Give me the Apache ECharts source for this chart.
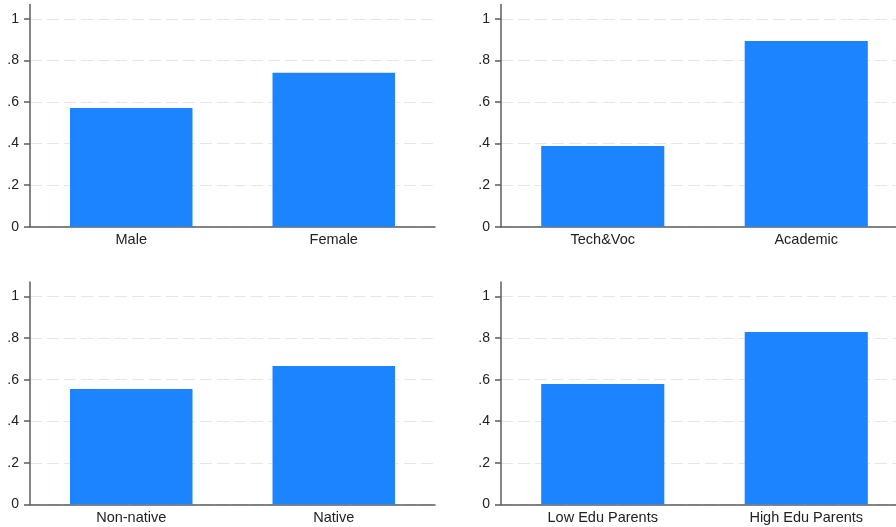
<!DOCTYPE html>
<html>
<head>
<meta charset="utf-8">
<style>
  html, body { margin: 0; padding: 0; background: #fff; }
  #chart { width: 896px; height: 527px; }
</style>
<script src="https://cdn.jsdelivr.net/npm/echarts@6/dist/echarts.min.js"></script>
</head>
<body>
<div id="chart"></div>
<script>
// Share of respondents by group (0–1 scale)
const genderCats = ['Male', 'Female'];
const genderVals = [0.571, 0.741];

const trackCats = ['Tech&Voc', 'Academic'];
const trackVals = [0.389, 0.894];

const originCats = ['Non-native', 'Native'];
const originVals = [0.555, 0.666];

const parentCats = ['Low Edu Parents', 'High Edu Parents'];
const parentVals = [0.579, 0.830];

const yTicks = [0, 0.2, 0.4, 0.6, 0.8, 1];
const yTickLabels = ['0', '.2', '.4', '.6', '.8', '1'];

const panels = [
  { cats: genderCats, vals: genderVals },
  { cats: trackCats, vals: trackVals },
  { cats: originCats, vals: originVals },
  { cats: parentCats, vals: parentVals }
];

const FONT = '"Liberation Sans", Arial, Helvetica, sans-serif';
const AXIS_COLOR = '#5c5c5c';
const BAR_COLOR = '#1c84ff';
const Y_MAX = 1.07;

// Panel boxes: [left, top, width, height]
const boxes = [
  [30, 4.5, 405, 222.2],
  [501, 4.5, 407, 222.2],
  [30, 282.1, 405, 222.2],
  [501, 282.1, 407, 222.2]
];

const grid = [], xAxis = [], yAxis = [], series = [];
panels.forEach((p, i) => {
  const b = boxes[i];
  grid.push({
    left: b[0], top: b[1], width: b[2], height: b[3],
    containLabel: false,
    outerBoundsMode: 'none'
  });
  xAxis.push({
    type: 'category',
    gridIndex: i,
    data: p.cats,
    boundaryGap: true,
    axisLine: { lineStyle: { color: AXIS_COLOR, width: 1.5 } },
    axisTick: { show: false },
    axisLabel: { color: '#222', fontFamily: FONT, fontSize: 14.5, margin: 6 },
    splitLine: { show: false }
  });
  yAxis.push({
    type: 'value',
    gridIndex: i,
    min: 0,
    max: Y_MAX,
    interval: 0.2,
    axisLine: { show: true, lineStyle: { color: AXIS_COLOR, width: 1.5 } },
    axisTick: { show: true, length: 6, customValues: yTicks, lineStyle: { color: AXIS_COLOR, width: 1.5 } },
    axisLabel: {
      color: '#222', fontFamily: FONT, fontSize: 14, margin: 11,
      customValues: yTicks,
      formatter: v => {
        const k = yTicks.findIndex(t => Math.abs(t - v) < 1e-9);
        return k >= 0 ? yTickLabels[k] : '';
      }
    },
    splitLine: {
      show: true,
      lineStyle: {
        color: ['#e6e6e6', '#e6e6e6', '#e6e6e6', '#e6e6e6', '#e6e6e6', '#e6e6e6', 'rgba(0,0,0,0)'],
        width: 1.2,
        type: [12, 5]
      }
    }
  });
  series.push({
    type: 'bar',
    xAxisIndex: i,
    yAxisIndex: i,
    data: p.vals,
    barWidth: '60.5%',
    itemStyle: { color: BAR_COLOR },
    silent: true,
    animation: false
  });
});

const chart = echarts.init(document.getElementById('chart'), null, { renderer: 'canvas' });
chart.setOption({
  animation: false,
  backgroundColor: '#fff',
  grid, xAxis, yAxis, series
});
</script>
</body>
</html>
